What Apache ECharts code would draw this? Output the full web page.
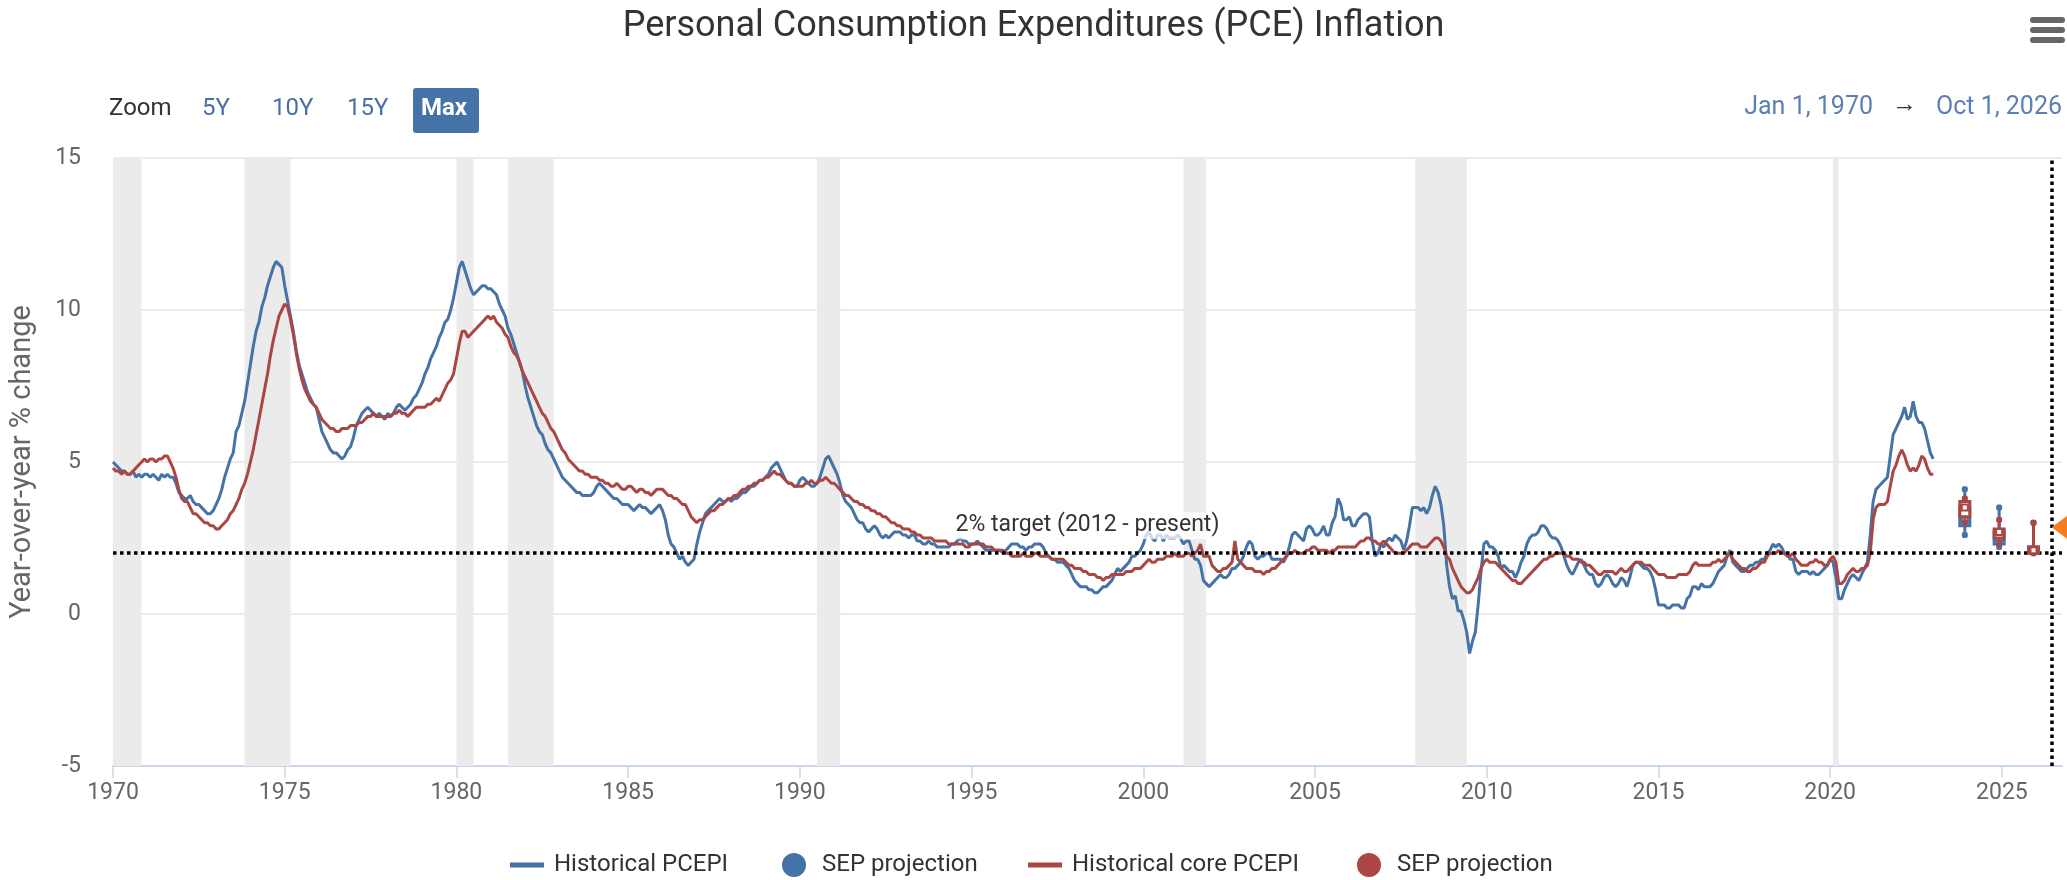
<!DOCTYPE html>
<html>
<head>
<meta charset="utf-8">
<title>PCE Inflation</title>
<script src="https://cdn.jsdelivr.net/npm/echarts@6/dist/echarts.min.js"></script>
<style>
  html, body { margin: 0; padding: 0; background: #fff; }
  #chart { width: 2067px; height: 880px; }
</style>
</head>
<body>
<div id="chart"></div>
<script>
// monthly data, Jan 1970 .. Jan 2023 (year-over-year % change)
const startYear = 1970
const pceYoY = [
  5.0, 4.9, 4.8, 4.7, 4.7, 4.6, 4.6, 4.7, 4.5, 4.6, 4.5, 4.6,
  4.6, 4.5, 4.6, 4.5, 4.4, 4.6, 4.5, 4.6, 4.5, 4.5, 4.3, 4.0,
  3.9, 3.8, 3.8, 3.9, 3.7, 3.6, 3.6, 3.5, 3.4, 3.3, 3.3, 3.4,
  3.6, 3.8, 4.1, 4.5, 4.8, 5.1, 5.3, 6.0, 6.2, 6.6, 7.0, 7.6,
  8.2, 8.8, 9.3, 9.6, 10.1, 10.4, 10.8, 11.1, 11.4, 11.6, 11.5, 11.4,
  10.8, 10.3, 9.8, 9.3, 8.7, 8.2, 7.9, 7.6, 7.3, 7.1, 6.9, 6.8,
  6.4, 6.0, 5.8, 5.6, 5.4, 5.3, 5.3, 5.2, 5.1, 5.2, 5.4, 5.5,
  5.8, 6.2, 6.4, 6.6, 6.7, 6.8, 6.7, 6.6, 6.5, 6.6, 6.5, 6.4,
  6.6, 6.5, 6.6, 6.8, 6.9, 6.8, 6.7, 6.8, 6.9, 7.1, 7.2, 7.4,
  7.6, 7.9, 8.1, 8.4, 8.6, 8.8, 9.1, 9.3, 9.6, 9.7, 10.0, 10.4,
  10.9, 11.4, 11.6, 11.3, 11.0, 10.7, 10.5, 10.6, 10.7, 10.8, 10.8, 10.7,
  10.7, 10.6, 10.5, 10.2, 10.0, 9.8, 9.4, 9.2, 8.9, 8.6, 8.3, 8.0,
  7.5, 7.1, 6.8, 6.5, 6.2, 6.0, 5.9, 5.6, 5.4, 5.3, 5.1, 4.9,
  4.7, 4.5, 4.4, 4.3, 4.2, 4.1, 4.0, 4.0, 3.9, 3.9, 3.9, 3.9,
  4.0, 4.2, 4.3, 4.2, 4.1, 4.0, 3.9, 3.8, 3.8, 3.7, 3.6, 3.6,
  3.6, 3.5, 3.4, 3.5, 3.6, 3.5, 3.5, 3.4, 3.3, 3.4, 3.5, 3.6,
  3.4, 3.1, 2.6, 2.3, 2.2, 2.0, 1.8, 1.9, 1.7, 1.6, 1.7, 1.8,
  2.3, 2.7, 3.0, 3.3, 3.4, 3.5, 3.6, 3.7, 3.8, 3.7, 3.7, 3.8,
  3.7, 3.8, 3.8, 3.9, 4.0, 4.0, 4.1, 4.2, 4.2, 4.3, 4.4, 4.4,
  4.5, 4.6, 4.8, 4.9, 5.0, 4.8, 4.6, 4.4, 4.3, 4.3, 4.2, 4.2,
  4.4, 4.5, 4.4, 4.3, 4.2, 4.2, 4.3, 4.5, 4.8, 5.1, 5.2, 5.0,
  4.8, 4.6, 4.3, 3.9, 3.7, 3.6, 3.5, 3.3, 3.1, 3.0, 3.0, 2.8,
  2.7, 2.8, 2.9, 2.8, 2.6, 2.5, 2.6, 2.5, 2.6, 2.7, 2.7, 2.7,
  2.6, 2.6, 2.5, 2.6, 2.6, 2.4, 2.4, 2.3, 2.3, 2.4, 2.3, 2.3,
  2.2, 2.2, 2.2, 2.2, 2.2, 2.3, 2.3, 2.4, 2.5, 2.4, 2.4, 2.3,
  2.3, 2.3, 2.4, 2.3, 2.2, 2.1, 2.1, 2.1, 2.1, 2.1, 2.1, 2.0,
  2.1, 2.2, 2.3, 2.3, 2.3, 2.2, 2.2, 2.1, 2.2, 2.2, 2.3, 2.3,
  2.3, 2.2, 2.0, 1.9, 1.8, 1.8, 1.7, 1.7, 1.7, 1.6, 1.5, 1.3,
  1.1, 1.0, 0.9, 0.9, 0.9, 0.8, 0.8, 0.7, 0.7, 0.8, 0.9, 0.9,
  1.0, 1.1, 1.3, 1.5, 1.4, 1.5, 1.6, 1.7, 1.9, 1.9, 2.0, 2.1,
  2.3, 2.6, 2.7, 2.5, 2.4, 2.6, 2.6, 2.4, 2.6, 2.5, 2.5, 2.5,
  2.6, 2.5, 2.3, 2.4, 2.4, 2.1, 1.8, 1.8, 1.6, 1.1, 1.0, 0.9,
  1.0, 1.1, 1.2, 1.3, 1.2, 1.2, 1.3, 1.5, 1.5, 1.6, 1.7, 1.9,
  2.2, 2.4, 2.3, 1.9, 1.8, 1.9, 1.9, 2.0, 2.0, 1.8, 1.8, 1.8,
  1.8, 1.7, 1.9, 2.2, 2.6, 2.7, 2.6, 2.5, 2.4, 2.8, 2.9, 2.8,
  2.6, 2.6, 2.7, 2.9, 2.6, 2.6, 3.0, 3.2, 3.8, 3.6, 3.1, 3.1,
  3.2, 2.9, 2.9, 3.1, 3.2, 3.3, 3.3, 3.2, 2.4, 1.9, 2.0, 2.3,
  2.2, 2.4, 2.5, 2.4, 2.6, 2.5, 2.4, 2.1, 2.4, 2.9, 3.5, 3.5,
  3.5, 3.4, 3.5, 3.3, 3.5, 3.9, 4.2, 4.0, 3.6, 2.9, 1.6, 0.9,
  0.5, 0.6, 0.1, 0.1, -0.2, -0.6, -1.3, -0.9, -0.6, 0.3, 1.4, 2.3,
  2.4, 2.2, 2.2, 2.1, 1.9, 1.5, 1.6, 1.5, 1.4, 1.4, 1.2, 1.4,
  1.7, 1.9, 2.3, 2.5, 2.6, 2.6, 2.7, 2.9, 2.9, 2.8, 2.6, 2.5,
  2.5, 2.4, 2.2, 1.9, 1.6, 1.4, 1.3, 1.5, 1.7, 1.8, 1.6, 1.4,
  1.3, 1.3, 1.0, 0.9, 1.0, 1.2, 1.3, 1.2, 1.0, 0.9, 1.0, 1.2,
  1.1, 0.9, 1.2, 1.6, 1.7, 1.7, 1.6, 1.5, 1.5, 1.4, 1.2, 0.8,
  0.3, 0.3, 0.3, 0.2, 0.2, 0.3, 0.3, 0.3, 0.2, 0.2, 0.5, 0.6,
  0.9, 0.9, 0.8, 1.0, 0.9, 0.9, 0.9, 1.0, 1.2, 1.4, 1.5, 1.6,
  1.9, 2.1, 1.7, 1.6, 1.5, 1.4, 1.4, 1.5, 1.6, 1.6, 1.7, 1.7,
  1.8, 1.8, 2.0, 2.1, 2.3, 2.2, 2.3, 2.2, 2.0, 2.0, 1.8, 1.8,
  1.4, 1.3, 1.4, 1.4, 1.4, 1.3, 1.4, 1.3, 1.3, 1.4, 1.5, 1.6,
  1.8, 1.7, 1.2, 0.5, 0.5, 0.8, 1.0, 1.2, 1.3, 1.2, 1.1, 1.3,
  1.5, 1.7, 2.6, 3.7, 4.1, 4.2, 4.3, 4.4, 4.5, 5.2, 5.9, 6.1,
  6.3, 6.5, 6.8, 6.4, 6.5, 7.0, 6.5, 6.3, 6.3, 6.1, 5.7, 5.3,
  5.1
]
const corePceYoY = [
  4.8, 4.7, 4.7, 4.6, 4.7, 4.6, 4.6, 4.7, 4.8, 4.9, 5.0, 5.1,
  5.0, 5.1, 5.1, 5.0, 5.1, 5.1, 5.2, 5.2, 5.0, 4.8, 4.5, 4.1,
  3.8, 3.7, 3.7, 3.5, 3.3, 3.3, 3.2, 3.1, 3.0, 3.0, 2.9, 2.9,
  2.8, 2.8, 2.9, 3.0, 3.1, 3.3, 3.4, 3.6, 3.8, 4.1, 4.3, 4.6,
  5.0, 5.4, 5.9, 6.4, 6.9, 7.4, 7.9, 8.5, 9.0, 9.4, 9.8, 10.0,
  10.2, 10.1, 9.7, 9.2, 8.6, 8.1, 7.7, 7.4, 7.2, 7.0, 6.9, 6.8,
  6.6, 6.4, 6.3, 6.2, 6.1, 6.1, 6.0, 6.0, 6.1, 6.1, 6.1, 6.2,
  6.2, 6.2, 6.3, 6.3, 6.4, 6.5, 6.5, 6.6, 6.5, 6.5, 6.5, 6.5,
  6.5, 6.5, 6.6, 6.6, 6.7, 6.6, 6.6, 6.5, 6.6, 6.7, 6.8, 6.8,
  6.8, 6.8, 6.9, 6.9, 7.0, 7.1, 7.0, 7.2, 7.4, 7.6, 7.7, 7.9,
  8.4, 8.9, 9.3, 9.3, 9.1, 9.2, 9.3, 9.4, 9.5, 9.6, 9.7, 9.8,
  9.7, 9.8, 9.6, 9.5, 9.4, 9.2, 9.1, 8.8, 8.6, 8.5, 8.3, 8.0,
  7.8, 7.6, 7.4, 7.2, 7.0, 6.8, 6.6, 6.5, 6.3, 6.1, 6.0, 5.8,
  5.6, 5.4, 5.3, 5.1, 5.0, 4.9, 4.8, 4.7, 4.7, 4.6, 4.6, 4.5,
  4.5, 4.5, 4.4, 4.4, 4.3, 4.3, 4.2, 4.2, 4.3, 4.2, 4.1, 4.1,
  4.2, 4.2, 4.1, 4.0, 4.1, 4.1, 4.0, 4.0, 3.9, 4.0, 4.1, 4.1,
  4.1, 4.0, 3.9, 3.9, 3.8, 3.8, 3.7, 3.6, 3.6, 3.4, 3.2, 3.1,
  3.0, 3.1, 3.1, 3.2, 3.3, 3.4, 3.4, 3.5, 3.6, 3.6, 3.7, 3.8,
  3.8, 3.9, 3.9, 4.0, 4.1, 4.1, 4.2, 4.2, 4.3, 4.3, 4.4, 4.4,
  4.5, 4.5, 4.6, 4.7, 4.6, 4.6, 4.5, 4.4, 4.3, 4.3, 4.2, 4.2,
  4.2, 4.2, 4.3, 4.3, 4.4, 4.3, 4.3, 4.4, 4.4, 4.5, 4.4, 4.3,
  4.3, 4.2, 4.1, 4.0, 3.9, 3.9, 3.8, 3.7, 3.7, 3.6, 3.6, 3.5,
  3.5, 3.4, 3.4, 3.3, 3.3, 3.2, 3.2, 3.1, 3.0, 3.0, 2.9, 2.9,
  2.8, 2.8, 2.8, 2.7, 2.7, 2.6, 2.6, 2.5, 2.5, 2.5, 2.5, 2.4,
  2.4, 2.4, 2.4, 2.4, 2.3, 2.3, 2.3, 2.3, 2.3, 2.3, 2.2, 2.2,
  2.3, 2.3, 2.3, 2.3, 2.3, 2.2, 2.2, 2.2, 2.1, 2.1, 2.1, 2.1,
  2.0, 2.0, 1.9, 1.9, 1.9, 1.9, 2.0, 1.9, 1.9, 1.9, 2.0, 2.0,
  1.9, 1.9, 1.9, 1.9, 1.8, 1.8, 1.8, 1.8, 1.8, 1.7, 1.6, 1.6,
  1.5, 1.5, 1.5, 1.4, 1.4, 1.3, 1.3, 1.3, 1.2, 1.2, 1.1, 1.2,
  1.2, 1.3, 1.3, 1.3, 1.3, 1.3, 1.4, 1.4, 1.4, 1.5, 1.5, 1.5,
  1.6, 1.7, 1.8, 1.7, 1.7, 1.8, 1.8, 1.8, 1.9, 1.9, 1.9, 2.0,
  1.9, 1.9, 1.9, 2.0, 2.0, 1.9, 2.0, 2.1, 2.3, 1.9, 1.9, 1.9,
  1.6, 1.5, 1.4, 1.4, 1.5, 1.5, 1.6, 1.7, 2.4, 1.8, 1.7, 1.6,
  1.5, 1.5, 1.5, 1.4, 1.4, 1.4, 1.3, 1.4, 1.4, 1.5, 1.5, 1.6,
  1.7, 1.8, 1.9, 2.0, 2.0, 2.1, 2.0, 2.0, 2.0, 2.1, 2.1, 2.2,
  2.2, 2.1, 2.1, 2.1, 2.1, 2.0, 2.1, 2.1, 2.2, 2.2, 2.2, 2.2,
  2.2, 2.2, 2.2, 2.3, 2.4, 2.4, 2.5, 2.5, 2.4, 2.4, 2.3, 2.3,
  2.4, 2.3, 2.2, 2.1, 2.0, 2.0, 2.0, 2.0, 2.1, 2.2, 2.3, 2.3,
  2.3, 2.2, 2.2, 2.2, 2.3, 2.4, 2.5, 2.5, 2.4, 2.2, 1.9, 1.8,
  1.5, 1.3, 1.1, 0.9, 0.8, 0.7, 0.7, 0.8, 1.0, 1.2, 1.5, 1.7,
  1.8, 1.7, 1.7, 1.7, 1.6, 1.5, 1.4, 1.3, 1.2, 1.1, 1.1, 1.0,
  1.0, 1.1, 1.2, 1.3, 1.4, 1.5, 1.6, 1.7, 1.8, 1.8, 1.9, 1.9,
  2.0, 2.0, 2.0, 2.0, 1.9, 1.9, 1.8, 1.8, 1.8, 1.7, 1.7, 1.6,
  1.6, 1.5, 1.4, 1.3, 1.3, 1.4, 1.4, 1.4, 1.4, 1.3, 1.4, 1.5,
  1.4, 1.4, 1.5, 1.6, 1.7, 1.7, 1.7, 1.6, 1.6, 1.6, 1.5, 1.4,
  1.3, 1.3, 1.3, 1.2, 1.2, 1.2, 1.2, 1.3, 1.3, 1.3, 1.3, 1.4,
  1.6, 1.7, 1.6, 1.6, 1.6, 1.6, 1.6, 1.7, 1.7, 1.8, 1.7, 1.8,
  1.9, 2.0, 1.8, 1.7, 1.6, 1.5, 1.5, 1.4, 1.4, 1.5, 1.5, 1.6,
  1.7, 1.7, 1.9, 2.0, 2.0, 2.0, 2.1, 2.0, 2.0, 1.9, 1.9, 2.0,
  1.8, 1.7, 1.6, 1.6, 1.6, 1.7, 1.7, 1.8, 1.7, 1.7, 1.6, 1.6,
  1.8, 1.9, 1.7, 1.0, 1.0, 1.1, 1.3, 1.4, 1.5, 1.4, 1.4, 1.5,
  1.5, 1.6, 2.0, 3.1, 3.5, 3.6, 3.6, 3.6, 3.7, 4.2, 4.7, 4.9,
  5.2, 5.4, 5.2, 4.9, 4.7, 4.8, 4.7, 4.9, 5.2, 5.1, 4.8, 4.6,
  4.6
]

// SEP projections (Q4 of each year)
const sepYears = [2023.92, 2024.92, 2025.92]
const pceRangeLow = [2.6, 2.2, 2.0]
const pceCtLow = [2.9, 2.3, 2.0]
const pceMedian = [3.1, 2.5, 2.1]
const pceCtHigh = [3.5, 2.7, 2.2]
const pceRangeHigh = [4.1, 3.5, 3.0]
const coreRangeLow = [3.0, 2.3, 2.0]
const coreCtLow = [3.2, 2.5, 2.0]
const coreMedian = [3.5, 2.7, 2.1]
const coreCtHigh = [3.7, 2.8, 2.2]
const coreRangeHigh = [3.8, 3.1, 3.0]

// recessions (shaded)
const recessionStart = [1969.92, 1973.83, 1980.0, 1981.5, 1990.5, 2001.17, 2007.92, 2020.08]
const recessionEnd = [1970.83, 1975.17, 1980.5, 1982.83, 1991.17, 2001.83, 2009.42, 2020.25]

const xTicks = [1970, 2026.75]
const yTicks = [-5, 15]
const targetValue = 2
const longRunYear = 2026.45
const markerValue = 2.85

const BLUE = '#4572A7'
const RED = '#AA4643'
const FONT = 'Roboto, sans-serif'

let toPoints = (arr) => arr.map((v, i) => [startYear + i / 12, v])
let toSep = (yrs, lo, cl, md, ch, hi) => yrs.map((y, i) => [y, lo[i], cl[i], md[i], ch[i], hi[i]])

function projectionItem (color) {
  return function (params, api) {
    let x = api.value(0)
    let lo = api.coord([x, api.value(1)])
    let boxLo = api.coord([x, api.value(2)])
    let mid = api.coord([x, api.value(3)])
    let boxHi = api.coord([x, api.value(4)])
    let hi = api.coord([x, api.value(5)])
    let w = 10
    let cap = 6
    return {
      type: 'group',
      children: [
        { type: 'line', shape: { x1: lo[0], y1: lo[1], x2: hi[0], y2: hi[1] }, style: { stroke: color, lineWidth: 3 } },
        { type: 'rect', shape: { x: hi[0] - cap / 2, y: hi[1] - cap / 2, width: cap, height: cap, r: 2 }, style: { fill: color } },
        { type: 'rect', shape: { x: lo[0] - cap / 2, y: lo[1] - cap / 2, width: cap, height: cap, r: 2 }, style: { fill: color } },
        { type: 'rect', shape: { x: boxHi[0] - w / 2, y: boxHi[1], width: w, height: Math.max(boxLo[1] - boxHi[1], 2) }, style: { fill: '#fff', stroke: color, lineWidth: 3 } },
        { type: 'rect', shape: { x: mid[0] - 3, y: mid[1] - 3, width: 6, height: 6 }, style: { fill: '#fff', stroke: color, lineWidth: 2 } }
      ]
    }
  }
}

function bandItem (params, api) {
  let p1 = api.coord([api.value(0), yTicks[1]])
  let p2 = api.coord([api.value(1), yTicks[0]])
  let rect = echarts.graphic.clipRectByRect({
    x: p1[0], y: p1[1], width: p2[0] - p1[0], height: p2[1] - p1[1]
  }, params.coordSys)
  return rect && { type: 'rect', shape: rect, style: { fill: '#ebebeb' } }
}

let legendBase = {
  top: 848,
  itemGap: 0,
  selectedMode: false,
  textStyle: { fontFamily: FONT, fontSize: 24, color: '#333' }
}

let myChart = echarts.init(document.getElementById('chart'))
let option = {
  animation: false,
  textStyle: { fontFamily: FONT },
  title: {
    text: 'Personal Consumption Expenditures (PCE) Inflation',
    left: 'center',
    top: 4,
    textStyle: { fontFamily: FONT, fontSize: 36, fontWeight: 'normal', color: '#333' }
  },
  legend: [
    Object.assign({}, legendBase, { left: 505, itemWidth: 34, itemHeight: 5, data: [{ name: 'Historical PCEPI', icon: 'rect' }], textStyle: Object.assign({}, legendBase.textStyle, { padding: [0, 0, 0, 5] }) }),
    Object.assign({}, legendBase, { left: 777, itemWidth: 24, itemHeight: 28, data: [{ name: 'SEP projection', icon: 'circle' }], textStyle: Object.assign({}, legendBase.textStyle, { padding: [0, 0, 0, 11] }) }),
    Object.assign({}, legendBase, { left: 1023, itemWidth: 34, itemHeight: 5, data: [{ name: 'Historical core PCEPI', icon: 'rect' }], textStyle: Object.assign({}, legendBase.textStyle, { padding: [0, 0, 0, 5] }) }),
    Object.assign({}, legendBase, { left: 1352, itemWidth: 24, itemHeight: 28, data: [{ name: 'SEP core projection', icon: 'circle' }], formatter: () => 'SEP projection', textStyle: Object.assign({}, legendBase.textStyle, { padding: [0, 0, 0, 11] }) })
  ],
  grid: {
    left: 109,
    right: 5,
    top: 158,
    bottom: 114
  },
  xAxis: {
    type: 'value',
    min: xTicks[0],
    max: xTicks[1],
    interval: 5,
    axisLine: { onZero: false, lineStyle: { color: '#ccd6eb', width: 2 } },
    axisTick: { show: true, length: 12, lineStyle: { color: '#ccd6eb', width: 1.5 } },
    axisLabel: {
      showMaxLabel: false,
      color: '#666',
      fontSize: 23,
      margin: 16,
      formatter: (v) => String(v)
    },
    splitLine: { show: false }
  },
  yAxis: {
    type: 'value',
    min: yTicks[0],
    max: yTicks[1],
    interval: 5,
    name: 'Year-over-year % change',
    nameLocation: 'middle',
    nameGap: 76,
    nameTextStyle: { fontSize: 29, color: '#666', fontFamily: FONT },
    axisLine: { show: false },
    axisTick: { show: false },
    axisLabel: { color: '#666', fontSize: 23, margin: 32 },
    splitLine: { lineStyle: { color: '#e6e6e6', width: 1.5 } }
  },
  graphic: [
    { type: 'text', left: 109, top: 97, style: { text: 'Zoom', font: '24px Roboto, sans-serif', fill: '#333' } },
    { type: 'text', left: 202, top: 97, style: { text: '5Y', font: '24px Roboto, sans-serif', fill: '#4a6fa5' } },
    { type: 'text', left: 272, top: 97, style: { text: '10Y', font: '24px Roboto, sans-serif', fill: '#4a6fa5' } },
    { type: 'text', left: 347, top: 97, style: { text: '15Y', font: '24px Roboto, sans-serif', fill: '#4a6fa5' } },
    { type: 'rect', left: 413, top: 88, shape: { width: 66, height: 45, r: 3 }, style: { fill: BLUE } },
    { type: 'text', left: 421, top: 97, style: { text: 'Max', font: 'bold 24px Roboto, sans-serif', fill: '#fff' } },
    { type: 'text', right: 5, top: 95, style: { text: 'Oct 1, 2026', font: '25px Roboto, sans-serif', fill: '#5a7fb5' } },
    { type: 'text', right: 150, top: 93, style: { text: '\u2192', font: '25px Roboto, sans-serif', fill: '#333' } },
    { type: 'text', right: 194, top: 95, style: { text: 'Jan 1, 1970', font: '25px Roboto, sans-serif', fill: '#5a7fb5' } },
    { type: 'rect', left: 2030, top: 17, shape: { width: 35, height: 6, r: 3 }, style: { fill: '#666' } },
    { type: 'rect', left: 2030, top: 27, shape: { width: 35, height: 6, r: 3 }, style: { fill: '#666' } },
    { type: 'rect', left: 2030, top: 37, shape: { width: 35, height: 6, r: 3 }, style: { fill: '#666' } }
  ],
  series: [
    {
      name: 'recessions',
      type: 'custom',
      z: 1,
      silent: true,
      renderItem: bandItem,
      encode: { x: [0, 1] },
      data: recessionStart.map((s, i) => [s, recessionEnd[i]])
    },
    {
      name: 'Historical PCEPI',
      type: 'line',
      z: 3,
      showSymbol: false,
      color: BLUE,
      lineStyle: { width: 3, color: BLUE },
      data: toPoints(pceYoY)
    },
    {
      name: 'SEP projection',
      type: 'custom',
      z: 4,
      color: BLUE,
      itemStyle: { color: BLUE },
      renderItem: projectionItem(BLUE),
      encode: { x: 0, y: [1, 5] },
      data: toSep(sepYears, pceRangeLow, pceCtLow, pceMedian, pceCtHigh, pceRangeHigh)
    },
    {
      name: 'Historical core PCEPI',
      type: 'line',
      z: 3,
      showSymbol: false,
      color: RED,
      lineStyle: { width: 3, color: RED },
      data: toPoints(corePceYoY),
      markLine: {
        silent: true,
        symbol: 'none',
        lineStyle: { color: '#000', type: [3.5, 3.5], width: 3.5 },
        data: [
          {
            yAxis: targetValue,
            label: {
              show: true,
              position: 'middle',
              distance: 14,
              formatter: '2% target (2012 - present)',
              color: '#333',
              fontSize: 23,
              fontFamily: FONT,
              backgroundColor: 'rgba(255,255,255,0.75)',
              padding: [2, 4]
            }
          },
          { xAxis: longRunYear, label: { show: false } }
        ]
      },
      markPoint: {
        silent: true,
        data: [{
          coord: [longRunYear, markerValue],
          symbol: 'path://M0,5L10,0L10,10Z',
          symbolSize: [16, 24],
          symbolOffset: [8, 0],
          itemStyle: { color: '#f47c20' },
          label: { show: false }
        }]
      }
    },
    {
      name: 'SEP core projection',
      type: 'custom',
      z: 5,
      color: RED,
      itemStyle: { color: RED },
      renderItem: projectionItem(RED),
      encode: { x: 0, y: [1, 5] },
      data: toSep(sepYears, coreRangeLow, coreCtLow, coreMedian, coreCtHigh, coreRangeHigh)
    }
  ]
}
myChart.setOption(option)
</script>
</body>
</html>
